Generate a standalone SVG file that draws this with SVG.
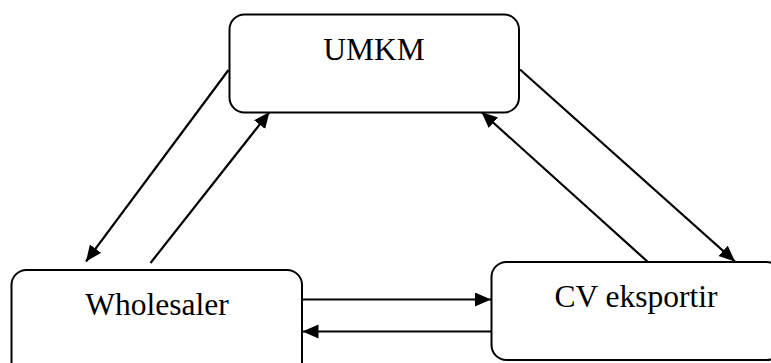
<svg xmlns="http://www.w3.org/2000/svg" width="771" height="363" viewBox="0 0 771 363">
  <style>
    .box { fill: #ffffff; stroke: #000000; stroke-width: 2; }
    .label { font-family: "Liberation Serif", "Times New Roman", serif; font-size: 31.5px; fill: #000000; text-anchor: middle; }
    .link { stroke: #000000; stroke-width: 2.2; fill: none; marker-end: url(#arrow); }
  </style>
  <defs>
    <marker id="arrow" markerUnits="userSpaceOnUse" markerWidth="18" markerHeight="16" refX="16" refY="7" orient="auto">
      <path d="M0,0 L16,7 L0,14 Z" fill="#000000"/>
    </marker>
  </defs>
  <rect width="771" height="363" fill="#ffffff"/>

  <g id="connectors">
    <line class="link" x1="228.5" y1="70" x2="86" y2="261.5"/>
    <line class="link" x1="150.5" y1="263" x2="269.5" y2="112"/>
    <line class="link" x1="520" y1="69.5" x2="735" y2="261.5"/>
    <line class="link" x1="648.5" y1="262.5" x2="481.5" y2="112"/>
    <line class="link" x1="302" y1="299.5" x2="491" y2="299.5"/>
    <line class="link" x1="491" y1="331.5" x2="302.5" y2="331.5"/>
  </g>

  <g id="umkm">
    <rect class="box" x="229.5" y="14.5" width="289.5" height="98" rx="15" ry="15"/>
    <text class="label" x="374" y="60">UMKM</text>
  </g>

  <g id="wholesaler">
    <rect class="box" x="11.5" y="270" width="290.5" height="110" rx="15" ry="15"/>
    <text class="label" x="157" y="315">Wholesaler</text>
  </g>

  <g id="cv-eksportir">
    <rect class="box" x="491.5" y="262" width="290" height="98" rx="15" ry="15"/>
    <text class="label" x="636" y="307">CV eksportir</text>
  </g>
</svg>
